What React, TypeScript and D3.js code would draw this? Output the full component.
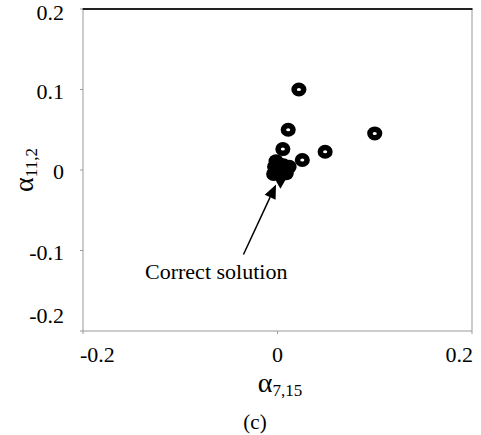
import React from "react";
import * as d3 from "d3";

// Trial solutions that did not converge (ring markers)
const ringX = [0.022, 0.011, 0.0055, 0.0255, 0.049, 0.1];
const ringY = [0.1, 0.05, 0.026, 0.0124, 0.0227, 0.0454];

// Trial solutions that converged near the origin (overlapping markers)
const clusterX = [-0.004, 0.0005, 0.006, -0.0015, 0.012, 0.009, -0.003];
const clusterY = [-0.005, 0.001, 0.006, 0.011, 0.004, -0.004, 0.004];

// The correct solution
const correctX = [0.003];
const correctY = [-0.009];

// Annotation arrow (tail -> head) and its label, in data units
const arrowTail = [-0.035, -0.105];
const arrowHead = [-0.0015, -0.018];
const annotationText = "Correct solution";
const annotationPos = [-0.063, -0.135];

const xTicks = [-0.2, 0, 0.2];
const yTicks = [0.2, 0.1, 0, -0.1, -0.2];
const xDomain = [-0.2, 0.2];
const yDomain = [-0.2, 0.2];

const W = 481;
const H = 435;
const M = { left: 83, right: 472, top: 9, bottom: 331 };
const FONT = "'Liberation Serif', 'Times New Roman', serif";

// tick label text: plain hyphen for negatives, bare "0"
const fmt = (v: number) => (v === 0 ? "0" : (v < 0 ? "-" : "") + Math.abs(v).toFixed(1));

export default function App() {
  const x = d3.scaleLinear().domain(xDomain).range([M.left, M.right]);
  const y = d3.scaleLinear().domain(yDomain).range([M.bottom, M.top]);

  // arrow geometry
  const x1 = x(arrowTail[0]);
  const y1 = y(arrowTail[1]);
  const x2 = x(arrowHead[0]);
  const y2 = y(arrowHead[1]);
  const ang = Math.atan2(y2 - y1, x2 - x1);
  const headLen = 14;
  const headHalf = 6;
  const bx = x2 - headLen * Math.cos(ang);
  const by = y2 - headLen * Math.sin(ang);
  const px = -Math.sin(ang) * headHalf;
  const py = Math.cos(ang) * headHalf;
  const headPts = `${x2},${y2} ${bx + px},${by + py} ${bx - px},${by - py}`;

  const diamond = d3.symbol().type(d3.symbolDiamond).size(150);

  // end labels are kept inside the plot extent
  const yLabelBase = (t: number) => Math.min(323, Math.max(20, y(t) + 9));
  const xLabelProps = (i: number, n: number, t: number) =>
    i === 0
      ? { x: x(t) - 3, textAnchor: "start" }
      : i === n - 1
      ? { x: x(t) + 1, textAnchor: "end" }
      : { x: x(t), textAnchor: "middle" };

  return (
    <svg
      width={W}
      height={H}
      style={{ position: "absolute", left: 0, top: 0, background: "#fff" }}
      fontFamily={FONT}
    >
      {/* frame */}
      <line x1={M.left} x2={M.left} y1={M.top} y2={M.bottom} stroke="#999" strokeWidth={1} />
      <line x1={M.right} x2={M.right} y1={M.top} y2={M.bottom} stroke="#999" strokeWidth={1} />
      <line x1={M.left} x2={M.right} y1={M.bottom} y2={M.bottom} stroke="#999" strokeWidth={1} />
      <line x1={M.left - 0.5} x2={M.right + 0.5} y1={M.top} y2={M.top} stroke="#222" strokeWidth={2} />

      {/* y axis ticks */}
      {yTicks.map((t) => (
        <g key={"y" + t}>
          <line x1={M.left - 3} x2={M.left} y1={y(t)} y2={y(t)} stroke="#999" />
          <text x={64} y={yLabelBase(t)} textAnchor="end" fontSize={22}>
            {fmt(t)}
          </text>
        </g>
      ))}

      {/* x axis ticks */}
      {xTicks.map((t, i) => (
        <g key={"x" + t}>
          <line x1={x(t)} x2={x(t)} y1={M.bottom} y2={M.bottom + 3} stroke="#999" />
          <text {...(xLabelProps(i, xTicks.length, t) as any)} y={362} fontSize={22}>
            {fmt(t)}
          </text>
        </g>
      ))}

      {/* axis titles */}
      <text x={280} y={392} textAnchor="middle" fontSize={28}>
        α<tspan fontSize={17} dy={4}>7,15</tspan>
      </text>
      <text
        transform={`translate(33, ${y(0)}) rotate(-90)`}
        textAnchor="middle"
        fontSize={28}
      >
        α<tspan fontSize={17} dy={4}>11,2</tspan>
      </text>
      <text x={255} y={429} textAnchor="middle" fontSize={21}>
        (c)
      </text>

      {/* converged cluster */}
      {clusterX.map((v, i) => (
        <ellipse key={"c" + i} cx={x(v)} cy={y(clusterY[i])} rx={7.5} ry={7} fill="#000" />
      ))}

      {/* correct solution */}
      {correctX.map((v, i) => (
        <path
          key={"d" + i}
          d={diamond() as string}
          transform={`translate(${x(v)},${y(correctY[i])})`}
          fill="#000"
        />
      ))}

      {/* ring markers */}
      {ringX.map((v, i) => (
        <ellipse
          key={"r" + i}
          cx={x(v)}
          cy={y(ringY[i])}
          rx={4.8}
          ry={4.3}
          fill="none"
          stroke="#000"
          strokeWidth={5.5}
        />
      ))}

      {/* annotation */}
      <line x1={x1} y1={y1} x2={bx} y2={by} stroke="#000" strokeWidth={1.5} />
      <polygon points={headPts} fill="#000" />
      <text
        x={x(annotationPos[0])}
        y={y(annotationPos[1])}
        textAnchor="middle"
        fontSize={22}
      >
        {annotationText}
      </text>
    </svg>
  );
}
